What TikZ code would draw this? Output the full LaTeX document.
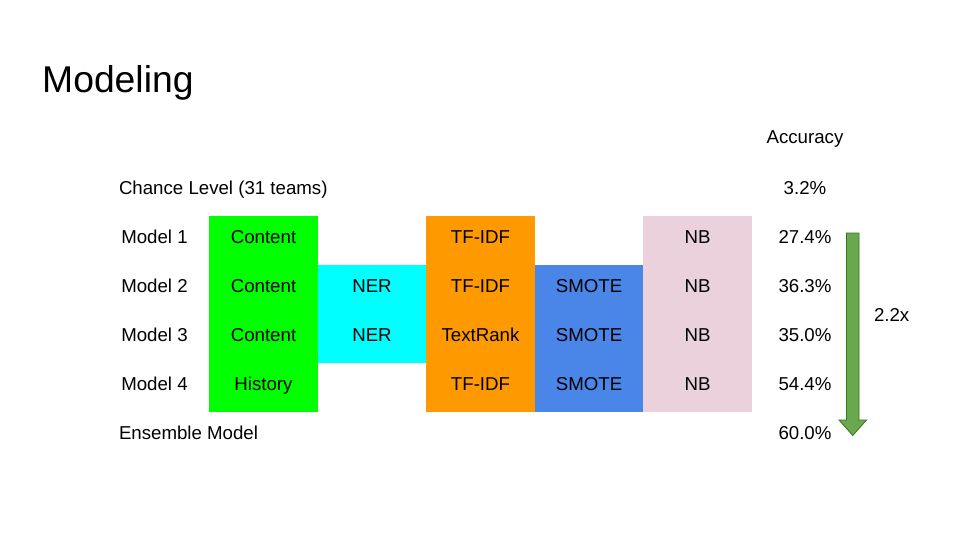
\documentclass[tikz,border=0pt]{standalone}
\usepackage{fontspec}
\setmainfont{Liberation Sans}
\definecolor{cgreen}{HTML}{00FF00}
\definecolor{ccyan}{HTML}{00FFFF}
\definecolor{corange}{HTML}{FF9900}
\definecolor{cblue}{HTML}{4A86E8}
\definecolor{cpink}{HTML}{EAD1DC}
\definecolor{afill}{HTML}{6AA84F}
\definecolor{aline}{HTML}{38761D}
\tikzset{
  txt/.style={inner sep=0pt, outer sep=0pt, text height=13.4pt, text depth=8pt,
    font=\fontsize{18.67pt}{22pt}\selectfont},
  cell/.style={txt, minimum width=109pt, minimum height=49pt},
  gcell/.style={cell, fill=cgreen},
  ccell/.style={cell, fill=ccyan},
  ocell/.style={cell, fill=corange},
  bcell/.style={cell, fill=cblue},
  pcell/.style={cell, fill=cpink},
  growth/.style={fill=afill, draw=aline, line width=0.8pt, line join=miter}
}
\begin{document}
\begin{tikzpicture}[x=1pt,y=-1pt]
\useasboundingbox[fill=white] (0,0) rectangle (960,540);
% title
\node[anchor=base west, inner sep=0pt, font=\fontsize{37.3pt}{44pt}\selectfont] (title) at (42,93) {Modeling};
% header
\node[cell] (acc) at (805,141) {Accuracy};
% chance level
\node[txt, anchor=west] (chance) at (119,191.5) {Chance Level (31 teams)};
\node[cell] (pchance) at (805,191.5) {3.2\%};
% row 1
\node[cell] (m1) at (154.5,240.5) {Model 1};
\node[gcell] (g1) at (263.5,240.5) {Content};
\node[ocell] (o1) at (480.5,240.5) {TF-IDF};
\node[pcell] (n1) at (697.5,240.5) {NB};
\node[cell] (p1) at (805,240.5) {27.4\%};
% row 2
\node[cell] (m2) at (154.5,289.5) {Model 2};
\node[gcell] (g2) at (263.5,289.5) {Content};
\node[ccell] (c2) at (372,289.5) {NER};
\node[ocell] (o2) at (480.5,289.5) {TF-IDF};
\node[bcell] (b2) at (589,289.5) {SMOTE};
\node[pcell] (n2) at (697.5,289.5) {NB};
\node[cell] (p2) at (805,289.5) {36.3\%};
% row 3
\node[cell] (m3) at (154.5,338.5) {Model 3};
\node[gcell] (g3) at (263.5,338.5) {Content};
\node[ccell] (c3) at (372,338.5) {NER};
\node[ocell] (o3) at (480.5,338.5) {TextRank};
\node[bcell] (b3) at (589,338.5) {SMOTE};
\node[pcell] (n3) at (697.5,338.5) {NB};
\node[cell] (p3) at (805,338.5) {35.0\%};
% row 4
\node[cell] (m4) at (154.5,387.5) {Model 4};
\node[gcell] (g4) at (263.5,387.5) {History};
\node[ocell] (o4) at (480.5,387.5) {TF-IDF};
\node[bcell] (b4) at (589,387.5) {SMOTE};
\node[pcell] (n4) at (697.5,387.5) {NB};
\node[cell] (p4) at (805,387.5) {54.4\%};
% ensemble
\node[txt, anchor=west] (ens) at (119,436.5) {Ensemble Model};
\node[cell] (pens) at (805,436.5) {60.0\%};
% arrow
\draw[growth] (846.5,233) -- (859,233) -- (859,420) -- (866.5,420) -- (852.75,435.5) -- (839,420) -- (846.5,420) -- cycle;
\node[txt, anchor=west] (factor) at (874,319) {2.2x};
\end{tikzpicture}
\end{document}
